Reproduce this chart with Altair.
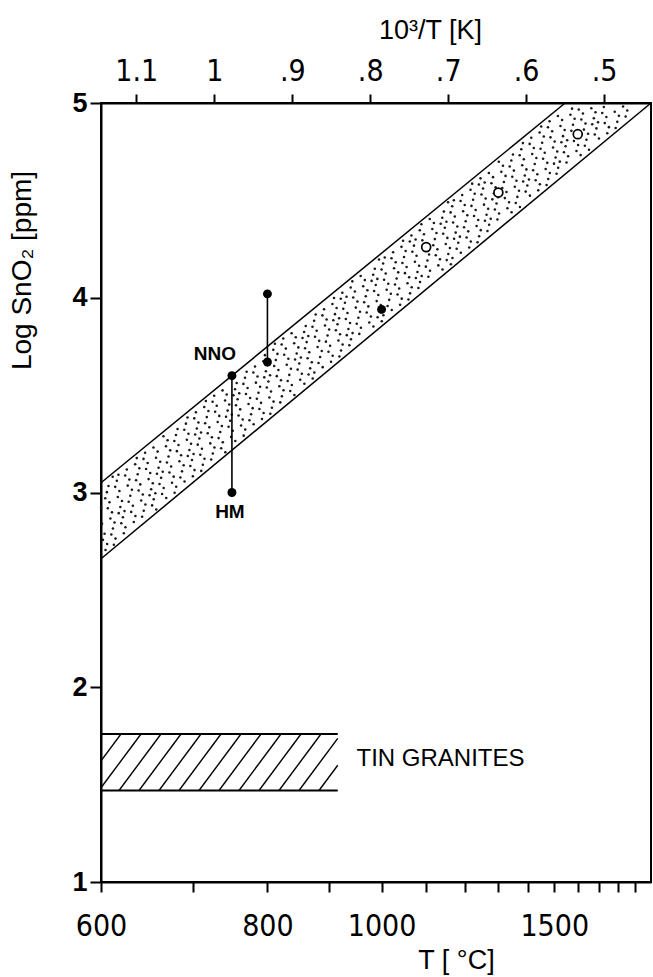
import altair as alt
import numpy as np
import pandas as pd


def inv_t(t_c):
    """Reciprocal absolute temperature, 10^3/T [K], from T in deg C."""
    return 1000.0 / (np.asarray(t_c, dtype=float) + 273.15)


# ---- axis ranges -----------------------------------------------------------
T_LEFT, T_RIGHT = 600, 2000          # deg C at the plot edges
Y_MIN, Y_MAX = 1, 5                  # Log SnO2 [ppm]
bottom_ticks_T = list(range(600, 2000, 100))
bottom_labels_T = [600, 800, 1000, 1500]
top_ticks = [1.1, 1.0, 0.9, 0.8, 0.7, 0.6, 0.5]
y_ticks = [1, 2, 3, 4, 5]

# ---- SnO2 solubility band (straight in 10^3/T) -----------------------------
upper_edge_T = [600, 1545]
upper_edge_y = [3.05, 5.00]
lower_edge_T = [600, 2000]
lower_edge_y = [2.66, 5.00]

# ---- experimental runs ------------------------------------------------------
filled_T = [750, 750, 800, 800, 1000]
filled_y = [3.60, 3.00, 4.02, 3.67, 3.94]
open_T = [1100, 1300, 1600]
open_y = [4.26, 4.54, 4.84]

# oxygen-buffer brackets (NNO ... HM) at one temperature
bracket_T = [750, 800]
bracket_lo = [3.00, 3.67]
bracket_hi = [3.60, 4.02]

# ---- tin granites field -----------------------------------------------------
granite_T = [600, 915]
granite_lo, granite_hi = 1.47, 1.76

FONT = "Liberation Sans"
TICK_FONT = "Liberation Sans Narrow, DejaVu Sans Condensed, Liberation Sans"

x_lo, x_hi = float(inv_t(T_RIGHT)), float(inv_t(T_LEFT))
x_scale = alt.Scale(domain=[x_lo, x_hi], reverse=True, nice=False, zero=False)
y_scale = alt.Scale(domain=[Y_MIN, Y_MAX], nice=False, zero=False)

# ---- tables ----------------------------------------------------------------
edges = pd.concat([
    pd.DataFrame({"v": inv_t(upper_edge_T), "y": upper_edge_y, "edge": "upper"}),
    pd.DataFrame({"v": inv_t(lower_edge_T), "y": lower_edge_y, "edge": "lower"}),
])


def edge_at(v, T_pts, y_pts):
    vs = inv_t(T_pts)[::-1]
    return np.interp(v, vs, np.asarray(y_pts)[::-1])


# stipple texture for the band: a low-discrepancy (R2) point lattice
g = 1.32471795724474602596
a1, a2 = 1.0 / g, 1.0 / (g * g)
n = np.arange(4700)
u = (0.5 + a1 * n) % 1.0
w = (0.5 + a2 * n) % 1.0
sv = x_lo + u * (x_hi - x_lo)
sy = 2.60 + w * 2.40
up = np.where(sv < inv_t(upper_edge_T[-1]), Y_MAX, edge_at(sv, upper_edge_T, upper_edge_y))
lo = edge_at(sv, lower_edge_T, lower_edge_y)
m = 0.017
keep = (sy > lo + m) & (sy < up - m) & (sy < Y_MAX - 0.012)
stipple = pd.DataFrame({"v": sv[keep], "y": sy[keep]})

# diagonal hatching for the tin-granite field
v_gl, v_gr = float(inv_t(granite_T[0])), float(inv_t(granite_T[1]))
px_per_v = 550.0 / (x_hi - x_lo)
step = 20.0 / px_per_v
slant = 42.0 / px_per_v
rows = []
vb = v_gl + slant
while vb > v_gr - 1e-9:
    t0 = max(0.0, (vb - v_gl) / slant)
    t1 = min(1.0, (vb - v_gr) / slant)
    if t1 > t0:
        rows.append({
            "v0": vb - slant * t0, "v1": vb - slant * t1,
            "y0": granite_lo + (granite_hi - granite_lo) * t0,
            "y1": granite_lo + (granite_hi - granite_lo) * t1,
        })
    vb -= step
hatch = pd.DataFrame(rows)
granite_lines = pd.DataFrame({"v0": [v_gl, v_gl], "v1": [v_gr, v_gr],
                              "y": [granite_lo, granite_hi]})

brackets = pd.DataFrame({"v": inv_t(bracket_T), "lo": bracket_lo, "hi": bracket_hi})
filled = pd.DataFrame({"v": inv_t(filled_T), "y": filled_y})
opened = pd.DataFrame({"v": inv_t(open_T), "y": open_y})
labels = pd.DataFrame({"v": inv_t([750, 750]), "y": [3.60, 3.00], "txt": ["NNO", "HM"]})
granite_label = pd.DataFrame({"v": inv_t([950]), "y": [1.63], "txt": ["TIN GRANITES"]})

# ---- axes ------------------------------------------------------------------
common = dict(grid=False, domainColor="black", tickColor="black", labelColor="black",
              titleColor="black", domainWidth=2, tickWidth=2)
lab_T = "round(1000 / datum.value - 273.15)"
bottom_axis = alt.Axis(
    orient="bottom", values=[float(v) for v in inv_t(bottom_ticks_T)],
    labelExpr=f"indexof({bottom_labels_T}, {lab_T}) >= 0 ? format({lab_T}, 'd') : ''",
    title="T [ °C]", titleX=355, titleY=86, titleAnchor="start", titleAlign="center",
    titleBaseline="alphabetic", titleFontSize=27, titleFontWeight="normal",
    labelFontSize=30, labelPadding=19, tickSize=10,
    labelOverlap=False, labelFlush=False, labelFont=TICK_FONT, titleFont=FONT, **common,
)
top_axis = alt.Axis(
    orient="top", values=top_ticks,
    labelExpr="datum.value < 1 ? slice(format(datum.value, '.1f'), 1) : format(datum.value, '.1~f')",
    title="10³/T [K]", titleX=329, titleY=-65, titleAnchor="start", titleAlign="center",
    titleBaseline="alphabetic", titleFontSize=27, titleFontWeight="normal",
    labelFontSize=30, labelPadding=8, tickSize=9,
    labelOverlap=False, labelFlush=False, labelFont=TICK_FONT, titleFont=FONT, **common,
)
y_axis = alt.Axis(
    values=y_ticks, format="d", labelFontSize=27, labelFontWeight="bold", labelPadding=3,
    tickSize=11, labelFont=FONT,
    title="Log SnO₂ [ppm]", titleFont=FONT, titleFontSize=28, titleFontWeight="normal",
    titleAngle=270, titleX=-79, titleY=167, titleAnchor="start",
    titleAlign="center", titleBaseline="middle", **common,
)


def X(field="v", axis=None):
    return alt.X(f"{field}:Q", scale=x_scale, axis=axis)


def Y(field="y"):
    return alt.Y(f"{field}:Q", scale=y_scale, axis=y_axis)


# ---- layers ----------------------------------------------------------------
dots = alt.Chart(stipple).mark_circle(size=6.5, color="#1a1a1a", opacity=1).encode(
    x=X(axis=bottom_axis), y=Y())

edge_lines = alt.Chart(edges).mark_line(color="black", strokeWidth=1.5).encode(
    x=X(axis=top_axis), y=Y(), detail="edge:N")

hatch_lines = alt.Chart(hatch).mark_rule(color="black", strokeWidth=1.4).encode(
    x=X("v0"), x2="v1", y=Y("y0"), y2="y1")

granite_box = alt.Chart(granite_lines).mark_rule(color="black", strokeWidth=2).encode(
    x=X("v0"), x2="v1", y=Y("y"))

bracket_rules = alt.Chart(brackets).mark_rule(color="black", strokeWidth=1.6).encode(
    x=X("v"), y=Y("lo"), y2="hi")

filled_pts = alt.Chart(filled).mark_circle(size=80, color="black", opacity=1).encode(
    x=X(), y=Y())

open_pts = alt.Chart(opened).mark_point(
    shape="circle", filled=True, fill="white", stroke="black", strokeWidth=1.7,
    size=80, opacity=1).encode(x=X(), y=Y())

nno = alt.Chart(labels[labels.txt == "NNO"]).mark_text(
    font=FONT, fontSize=19, fontWeight="bold", color="black", align="center",
    baseline="middle", dx=-17, dy=-22).encode(x=X(), y=Y(), text="txt:N")
hm = alt.Chart(labels[labels.txt == "HM"]).mark_text(
    font=FONT, fontSize=19, fontWeight="bold", color="black", align="center",
    baseline="middle", dx=-2, dy=19).encode(x=X(), y=Y(), text="txt:N")
granite_text = alt.Chart(granite_label).mark_text(
    font=FONT, fontSize=24, color="black", align="left", baseline="middle").encode(
    x=X(), y=Y(), text="txt:N")

chart = alt.layer(
    dots, edge_lines, hatch_lines, granite_box, bracket_rules, filled_pts, open_pts,
    nno, hm, granite_text,
).resolve_axis(x="independent").properties(
    width=550, height=779,
    padding={"left": 101, "top": 103, "right": 2, "bottom": 95},
    autosize="none", background="white",
).configure_view(stroke="black", strokeWidth=2)

chart.save("out.html", embed_options={"renderer": "svg", "actions": False})
